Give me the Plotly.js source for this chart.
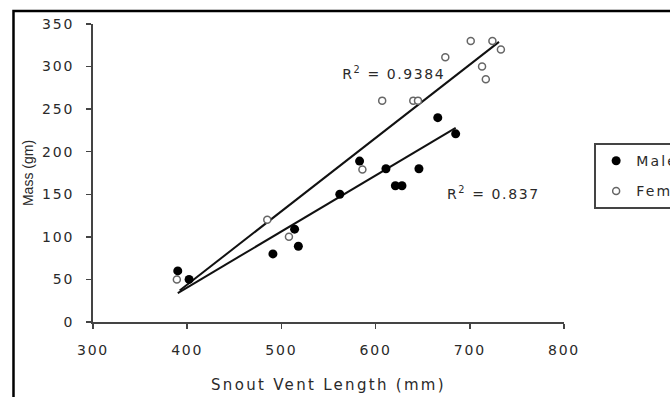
<!DOCTYPE html>
<html>
<head>
<meta charset="utf-8">
<script src="https://cdn.plot.ly/plotly-3.0.1.min.js"></script>
<style>
html,body{margin:0;padding:0;background:#fff;}
#chart{width:670px;height:397px;}
#chart .xtick text, #chart .ytick text{letter-spacing:1.8px;}
#chart .xtitle{letter-spacing:2.3px;}
#chart .annotation-text{letter-spacing:1.6px;}
#chart .legendtext{letter-spacing:2.2px;}
</style>
</head>
<body>
<div id="chart"></div>
<script>
// Male (filled markers)
const maleLength = [390, 402, 491, 514, 518, 562, 583, 611, 621, 628, 646, 666, 685];
const maleMass   = [60, 50, 80, 109, 89, 150, 189, 180, 160, 160, 180, 240, 221];
// Female (open markers)
const femaleLength = [389, 485, 508, 586, 607, 640, 645, 674, 701, 713, 717, 724, 733];
const femaleMass   = [50, 120, 100, 179, 260, 260, 260, 311, 330, 300, 285, 330, 320];
// Linear trendline end points
const maleFitX = [390, 685];
const maleFitY = [34, 228];
const femaleFitX = [392, 731];
const femaleFitY = [37, 329];
const maleR2 = "0.837";
const femaleR2 = "0.9384";

const fontFam = "DejaVu Sans, Arial, sans-serif";
const txtCol = "#2a2a2a";

const traces = [
  {x: maleFitX, y: maleFitY, mode: "lines", line: {color: "#111", width: 2}, showlegend: false, hoverinfo: "skip", legendgroup: "m"},
  {x: femaleFitX, y: femaleFitY, mode: "lines", line: {color: "#111", width: 2}, showlegend: false, hoverinfo: "skip", legendgroup: "f"},
  {x: maleLength, y: maleMass, mode: "markers", name: "Male", legendgroup: "m",
   marker: {symbol: "circle", size: 9, color: "#000"}},
  {x: femaleLength, y: femaleMass, mode: "markers", name: "Female", legendgroup: "f",
   marker: {symbol: "circle", size: 7, color: "#fff", line: {color: "#666", width: 1.5}}}
];

const layout = {
  width: 670, height: 397,
  margin: {l: 93, r: 106, t: 24, b: 75, autoexpand: false},
  paper_bgcolor: "#fff", plot_bgcolor: "#fff",
  font: {family: fontFam, size: 14, color: txtCol},
  xaxis: {
    range: [300, 800], tickvals: [300, 400, 500, 600, 700, 800],
    showgrid: false, zeroline: false, showline: true, linecolor: "#444", linewidth: 2,
    ticks: "outside", ticklen: 5, tickcolor: "#444", tickwidth: 1.5, ticklabelstandoff: 9,
    tickfont: {family: fontFam, size: 14, color: txtCol},
    title: {text: "Snout Vent Length (mm)", font: {family: fontFam, size: 15, color: txtCol}, standoff: 23}
  },
  yaxis: {
    range: [0, 350], tickvals: [0, 50, 100, 150, 200, 250, 300, 350],
    showgrid: false, zeroline: false, showline: true, linecolor: "#444", linewidth: 2,
    ticks: "outside", ticklen: 5, tickcolor: "#444", tickwidth: 1.5, ticklabelstandoff: 9,
    tickfont: {family: fontFam, size: 14, color: txtCol},
    title: {text: "Mass (gm)", font: {family: "Liberation Sans, Arial, sans-serif", size: 14, color: txtCol}, standoff: 11}
  },
  legend: {
    x: 1.064, y: 0.60, xanchor: "left", yanchor: "top",
    bordercolor: "#444", borderwidth: 2, bgcolor: "#fff",
    font: {family: fontFam, size: 14, color: txtCol},
    itemwidth: 30, traceorder: "grouped", tracegroupgap: 9
  },
  annotations: [
    {x: 619, y: 292, xref: "x", yref: "y", text: "R<sup>2</sup> = " + femaleR2, showarrow: false,
     font: {family: fontFam, size: 14, color: txtCol}},
    {x: 725, y: 151, xref: "x", yref: "y", text: "R<sup>2</sup> = " + maleR2, showarrow: false,
     font: {family: fontFam, size: 14, color: txtCol}}
  ],
  shapes: [
    {type: "rect", xref: "paper", yref: "paper", x0: -0.1688, x1: 1.5, y0: -0.5, y1: 1.0436,
     line: {color: "#000", width: 2.5}, fillcolor: "rgba(0,0,0,0)", layer: "below"}
  ],
  showlegend: true
};

Plotly.newPlot("chart", traces, layout, {displayModeBar: false, staticPlot: true});
</script>
</body>
</html>
